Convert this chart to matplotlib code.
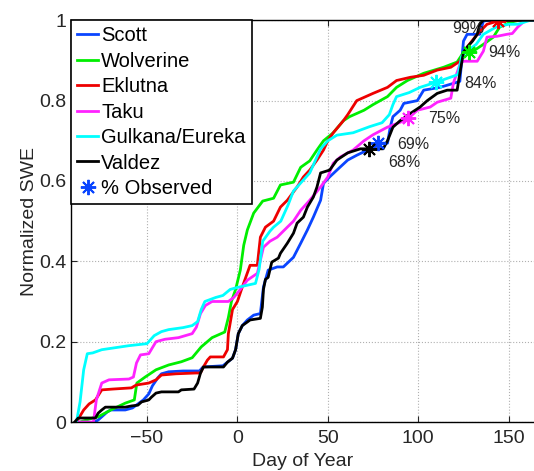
import numpy as np
import matplotlib
matplotlib.use('Agg')
import matplotlib.pyplot as plt

plt.rcParams['font.family'] = ['Liberation Sans', 'DejaVu Sans']

# site curves: (day of year, normalized SWE)
scott = [(-79, 0), (-77, 0.005), (-75, 0.013), (-72, 0.025), (-70, 0.03), (-62, 0.03), (-58, 0.035),
         (-55, 0.045), (-52, 0.055), (-49, 0.07), (-47, 0.09), (-44, 0.11), (-42, 0.12), (-38, 0.125),
         (-30, 0.127), (-21, 0.127), (-19, 0.137), (-8, 0.14), (-5.5, 0.149), (-2.7, 0.159), (-1, 0.18),
         (0.5, 0.22), (2.7, 0.24), (5.5, 0.254), (9, 0.266), (12.7, 0.27), (14.4, 0.336), (17, 0.378),
         (22, 0.386), (25.4, 0.386), (31, 0.41), (35, 0.445), (38.7, 0.478), (42, 0.51), (46, 0.552),
         (47.6, 0.594), (51, 0.61), (55, 0.627), (61, 0.652), (66, 0.664), (72, 0.677), (78, 0.694),
         (83, 0.694), (84.5, 0.734), (86, 0.76), (90, 0.776), (92, 0.793), (99.5, 0.80), (103, 0.826),
         (112, 0.833), (119.5, 0.843), (123, 0.848), (125, 0.948), (127, 0.965), (134, 0.965),
         (136, 0.998), (140, 1.0), (164, 1.0)]
wolverine = [(-87, 0), (-80, 0.01), (-77, 0.013), (-70, 0.03), (-62, 0.047), (-57, 0.055), (-55.6, 0.097),
             (-51, 0.112), (-45, 0.13), (-38, 0.142), (-31, 0.15), (-25, 0.16), (-20, 0.187), (-14, 0.21),
             (-7, 0.224), (-5, 0.26), (-3.3, 0.30), (-1, 0.33), (1.6, 0.378), (3.5, 0.44), (5.5, 0.478),
             (9, 0.52), (14, 0.55), (20, 0.557), (23.8, 0.59), (31, 0.597), (35, 0.634), (40, 0.65),
             (44, 0.677), (47.6, 0.70), (53, 0.72), (58.6, 0.75), (62, 0.76), (70, 0.776), (75, 0.79),
             (83, 0.81), (88, 0.833), (94, 0.85), (103, 0.868), (114, 0.883), (121.5, 0.896), (125, 0.92),
             (130, 0.922), (136, 0.94), (141.5, 0.958), (145, 0.983), (151, 0.995), (156, 1.0), (164, 1.0)]
eklutna = [(-89, 0), (-87, 0.015), (-85, 0.03), (-82, 0.045), (-78.5, 0.055), (-75, 0.08), (-69, 0.082),
           (-58.6, 0.085), (-56, 0.092), (-49, 0.097), (-45, 0.105), (-42, 0.117), (-34, 0.12), (-23, 0.122),
           (-20.4, 0.122), (-18.8, 0.137), (-16.6, 0.154), (-15, 0.162), (-7.7, 0.162), (-5.5, 0.18),
           (-5, 0.22), (-2.7, 0.28), (0, 0.30), (2.7, 0.336), (7, 0.39), (11, 0.39), (12.7, 0.46),
           (15.5, 0.485), (20, 0.50), (23.8, 0.535), (27.6, 0.552), (33, 0.585), (36.5, 0.61), (40, 0.627),
           (44, 0.652), (47.6, 0.677), (50, 0.70), (53, 0.72), (58.6, 0.75), (61, 0.765), (66, 0.80),
           (75, 0.818), (83, 0.833), (88, 0.85), (95.6, 0.858), (103, 0.863), (110.5, 0.876), (118, 0.883),
           (123, 0.898), (127, 0.933), (132.6, 0.965), (138, 0.99), (144, 0.998), (150, 1.0), (164, 1.0)]
taku = [(-88, 0), (-79.6, 0), (-78, 0.055), (-75, 0.097), (-71, 0.105), (-60, 0.107), (-57.5, 0.112),
        (-55.8, 0.147), (-53.6, 0.167), (-49, 0.17), (-45, 0.2), (-40, 0.206), (-32.6, 0.21), (-25, 0.22),
        (-22.7, 0.236), (-20.4, 0.27), (-17.7, 0.29), (-14, 0.30), (-5, 0.30), (-2, 0.31), (1.6, 0.33),
        (5.5, 0.353), (11, 0.37), (14.4, 0.435), (18, 0.45), (22, 0.46), (27.6, 0.485), (31, 0.50),
        (35, 0.527), (40, 0.552), (46, 0.585), (50, 0.61), (53, 0.644), (57, 0.66), (64, 0.677),
        (70, 0.70), (75, 0.715), (83, 0.734), (90, 0.746), (94.5, 0.756), (99.5, 0.776), (106.6, 0.784),
        (110.5, 0.796), (118, 0.806), (119.5, 0.845), (121.5, 0.87), (123, 0.89), (125, 0.898),
        (132.6, 0.898), (136, 0.923), (138, 0.958), (143.5, 0.96), (149, 0.965), (152, 0.967),
        (155, 0.983), (158, 0.995), (160, 1.0), (164, 1.0)]
gulkana = [(-89, 0), (-87, 0.05), (-85, 0.13), (-83, 0.17), (-80, 0.172), (-75, 0.18), (-60, 0.19),
           (-50, 0.195), (-46, 0.215), (-42, 0.225), (-38, 0.23), (-30, 0.235), (-25, 0.24), (-22, 0.25),
           (-20, 0.28), (-18, 0.30), (-12, 0.31), (-8, 0.315), (-4, 0.33), (0, 0.335), (5, 0.34),
           (10, 0.345), (12, 0.38), (14, 0.45), (18, 0.475), (20, 0.485), (24, 0.50), (28, 0.54),
           (31, 0.575), (36, 0.60), (40, 0.62), (44, 0.66), (46, 0.68), (50, 0.70), (55, 0.714),
           (64, 0.72), (73, 0.735), (80, 0.745), (84, 0.765), (86, 0.79), (88, 0.81), (95, 0.82),
           (101, 0.833), (110, 0.846), (119, 0.86), (122, 0.865), (124, 0.91), (127, 0.923), (132, 0.94),
           (136, 0.965), (143, 0.983), (150, 0.99), (155, 0.99), (162, 1.0), (164, 1.0)]
valdez = [(-90, 0), (-88, 0.01), (-78.5, 0.01), (-77, 0.022), (-75, 0.03), (-73, 0.037), (-62, 0.037),
          (-58.6, 0.04), (-55, 0.042), (-53, 0.05), (-49, 0.055), (-47.5, 0.062), (-45, 0.072), (-42, 0.075),
          (-32.6, 0.075), (-31, 0.08), (-24, 0.082), (-22, 0.097), (-20.4, 0.122), (-18.8, 0.137),
          (-7.7, 0.137), (-5.5, 0.149), (-2.7, 0.159), (-1, 0.18), (0.5, 0.22), (2.7, 0.24), (5.5, 0.249),
          (7, 0.254), (12.7, 0.258), (13.8, 0.286), (14.4, 0.33), (15.5, 0.355), (17, 0.36), (19, 0.398),
          (22.7, 0.408), (23.8, 0.42), (27.6, 0.445), (31, 0.47), (33, 0.495), (36.5, 0.51), (38.7, 0.535),
          (42, 0.56), (44, 0.585), (46, 0.62), (51, 0.627), (55, 0.652), (61, 0.67), (68, 0.68),
          (80.6, 0.68), (83, 0.70), (86, 0.734), (90, 0.75), (95.6, 0.768), (101, 0.784), (105, 0.80),
          (110.5, 0.818), (116, 0.826), (121.5, 0.826), (123, 0.868), (125, 0.92), (127, 0.933),
          (130, 0.948), (132.6, 0.965), (134, 0.99), (136, 1.0), (164, 1.0)]

names = ['Scott', 'Wolverine', 'Eklutna', 'Taku', 'Gulkana/Eureka', 'Valdez']
colors = ['#0a45ff', '#00ee00', '#ee0000', '#ff22ff', '#00ffff', 'k']
curves = [scott, wolverine, eklutna, taku, gulkana, valdez]

# % observed markers and their labels
obs_x = [78, 128, 144, 94.5, 110, 72.5]
obs_y = [0.694, 0.92, 0.998, 0.756, 0.846, 0.68]
obs_lbl = ['69%', '94%', '99%', '75%', '84%', '68%']
lbl_x = [88.4, 138.7, 118.8, 105.5, 125.4, 83.4]
lbl_y = [0.69, 0.92, 0.98, 0.756, 0.843, 0.647]

fig = plt.figure(figsize=(5.34, 4.71), dpi=100)
ax = fig.add_axes([0.133, 0.104, 0.867, 0.853])

for c, col, name in zip(curves, colors, names):
    d = np.array(c)
    ax.plot(d[:, 0], d[:, 1], color=col, lw=2, label=name)

star = (8, 2, 0)
for x, y, col in zip(obs_x, obs_y, colors):
    ax.plot(x, y, marker=star, color=col, ms=11, mew=1.4, ls='none')
ax.plot([], [], marker=star, color=colors[0], ms=11, mew=1.4, ls='none', label='% Observed')

for x, y, t in zip(lbl_x, lbl_y, obs_lbl):
    ax.text(x, y, t, fontsize=11.5, color='#262626', ha='left', va='center')

ax.set_xlim(-92, 164)
ax.set_ylim(0, 1)
ax.set_xticks([-50, 0, 50, 100, 150])
ax.set_yticks([0, 0.2, 0.4, 0.6, 0.8, 1])
ax.set_yticklabels(['0', '0.2', '0.4', '0.6', '0.8', '1'])
ax.grid(True, ls=':', color='#b0b0b0', lw=0.8)
ax.tick_params(direction='in', top=True, labelsize=14, length=4, colors='#262626')
ax.tick_params(axis='x', pad=6)
ax.spines['right'].set_visible(False)
for s in ['left', 'bottom', 'top']:
    ax.spines[s].set_linewidth(1.0)
ax.set_xlabel('Day of Year', fontsize=14, color='#262626', labelpad=4)
ax.set_ylabel('Normalized SWE', fontsize=14, color='#262626', labelpad=1)

leg = ax.legend(loc='upper left', bbox_to_anchor=(0, 1), borderaxespad=0, fontsize=14.5,
                handlelength=1.05, handletextpad=0.15, labelspacing=0.32, borderpad=0.3,
                fancybox=False, framealpha=1, edgecolor='k')
leg.get_frame().set_linewidth(1.2)

fig.savefig('out.png', dpi=100)
